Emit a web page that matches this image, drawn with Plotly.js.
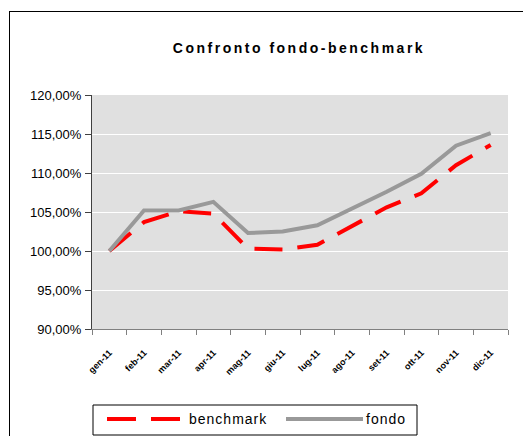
<!DOCTYPE html>
<html>
<head>
<meta charset="utf-8">
<script src="https://cdn.plot.ly/plotly-3.0.1.min.js"></script>
<style>
  html, body { margin: 0; padding: 0; background: #fff; }
  #wrap { position: relative; width: 523px; height: 436px; overflow: hidden; }
  #chart { position: absolute; left: 0; top: 0; width: 523px; height: 436px; }
  #frame { position: absolute; left: 9px; top: 11px; width: 700px; height: 600px;
           border-left: 1px solid #000; border-top: 1px solid #000; pointer-events: none; z-index: 5; }
  .gtitle { letter-spacing: 2.5px; }
  .annotation-text { letter-spacing: 1px; }
</style>
</head>
<body>
<div id="wrap"><div id="chart"></div><div id="frame"></div></div>
<script>
// ---- data ----
const categories = ["gen-11", "feb-11", "mar-11", "apr-11", "mag-11", "giu-11",
                    "lug-11", "ago-11", "set-11", "ott-11", "nov-11", "dic-11"];
const benchmark = [100.0, 103.7, 105.1, 104.8, 100.3, 100.2, 100.8, 103.2, 105.6, 107.4, 111.0, 113.6];
const fondo     = [100.0, 105.2, 105.2, 106.3, 102.3, 102.5, 103.3, 105.4, 107.6, 109.9, 113.5, 115.1];
const seriesNames = ["benchmark", "fondo"];
const chartTitle = "Confronto fondo-benchmark";

// ---- layout geometry (pixels) ----
const W = 523, H = 436;
const M = { l: 92, r: 15, t: 95, b: 107 };
const pw = W - M.l - M.r, ph = H - M.t - M.b;
const px2x = x => (x - M.l) / pw;
const px2y = y => (H - M.b - y) / ph;

const redColor = "#ff0000", grayColor = "#999999";

const traces = [
  { x: categories, y: benchmark.map(v => v / 100), name: seriesNames[0], type: "scatter", mode: "lines",
    line: { color: redColor, width: 4, dash: "28px,15px" }, showlegend: false, hoverinfo: "skip" },
  { x: categories, y: fondo.map(v => v / 100), name: seriesNames[1], type: "scatter", mode: "lines",
    line: { color: grayColor, width: 4 }, showlegend: false, hoverinfo: "skip" }
];

const legY = px2y(419);
const layout = {
  width: W, height: H,
  margin: M,
  paper_bgcolor: "#ffffff",
  plot_bgcolor: "#e0e0e0",
  separators: ",.",
  font: { family: "Liberation Sans, Arial, sans-serif", color: "#000" },
  title: { text: chartTitle, x: 299 / W, xanchor: "center", xref: "container",
           y: 1 - 48 / H, yref: "container", yanchor: "middle",
           font: { size: 14, weight: "bold", color: "#000", family: "Liberation Sans, Arial, sans-serif" } },
  xaxis: {
    type: "category", range: [-0.5, categories.length - 0.5],
    showgrid: false, zeroline: false,
    showline: true, linecolor: "#808080", linewidth: 1,
    ticks: "outside", ticklen: 5, tickcolor: "#808080", tickson: "boundaries",
    tickangle: -45, ticklabelstandoff: 14,
    tickfont: { size: 9, weight: "bold", color: "#000" }
  },
  yaxis: {
    range: [0.9, 1.2], dtick: 0.05, tick0: 0.9, tickformat: ".2%",
    showgrid: true, gridcolor: "#ffffff", gridwidth: 1, zeroline: false,
    showline: true, linecolor: "#404040", linewidth: 1,
    ticks: "outside", ticklen: 6, tickcolor: "#404040", ticklabelstandoff: 1,
    tickfont: { size: 13, color: "#000" }
  },
  shapes: [
    { type: "rect", xref: "paper", yref: "paper",
      x0: px2x(93), x1: px2x(417), y0: px2y(405), y1: px2y(435),
      line: { color: "#000", width: 1 }, fillcolor: "#ffffff" },
    { type: "line", xref: "paper", yref: "paper",
      x0: px2x(107), x1: px2x(181), y0: legY, y1: legY,
      line: { color: redColor, width: 4, dash: "29px,15px" } },
    { type: "line", xref: "paper", yref: "paper",
      x0: px2x(286), x1: px2x(363), y0: legY, y1: legY,
      line: { color: grayColor, width: 4 } }
  ],
  annotations: [
    { xref: "paper", yref: "paper", x: px2x(187), y: legY, xanchor: "left", yanchor: "middle",
      text: seriesNames[0], showarrow: false, font: { size: 14, color: "#000" } },
    { xref: "paper", yref: "paper", x: px2x(364), y: legY, xanchor: "left", yanchor: "middle",
      text: seriesNames[1], showarrow: false, font: { size: 14, color: "#000" } }
  ]
};

Plotly.newPlot("chart", traces, layout, { staticPlot: true, displayModeBar: false });
</script>
</body>
</html>
